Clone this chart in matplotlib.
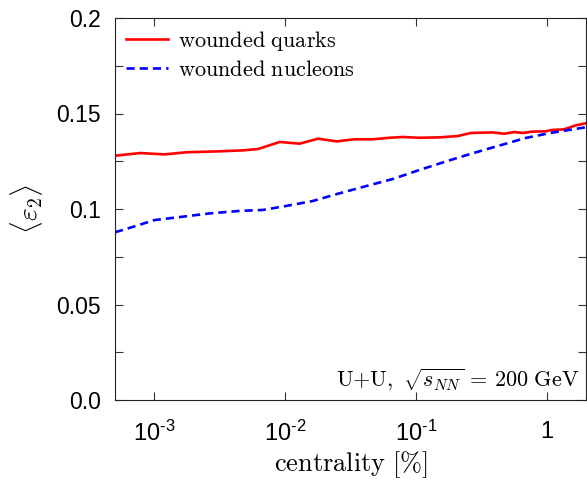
import numpy as np
import matplotlib
matplotlib.use("Agg")
import matplotlib.pyplot as plt
from matplotlib.font_manager import FontProperties
from matplotlib.ticker import FixedLocator, MultipleLocator, NullLocator

plt.rcParams['font.family'] = ['Liberation Sans', 'DejaVu Sans']
plt.rcParams['mathtext.fontset'] = 'custom'
plt.rcParams['mathtext.rm'] = 'Liberation Sans'
plt.rcParams['mathtext.it'] = 'Liberation Sans:italic'
plt.rcParams['mathtext.bf'] = 'Liberation Sans:bold'

# wounded quarks (solid red)
quark_x = [5e-4, 7.8e-4, 1.2e-3, 1.76e-3, 3.16e-3, 4.76e-3, 6.2e-3, 9.1e-3,
           0.0129, 0.0178, 0.0248, 0.034, 0.0468, 0.0628, 0.0794, 0.106,
           0.151, 0.209, 0.264, 0.386, 0.474, 0.565, 0.654, 0.78, 0.986,
           1.107, 1.36, 1.67, 2.0]
quark_e2 = [0.1279, 0.1293, 0.1286, 0.1297, 0.1302, 0.1307, 0.1314, 0.1351,
            0.1342, 0.1368, 0.1354, 0.1365, 0.1365, 0.1373, 0.1377, 0.1373,
            0.1375, 0.1382, 0.1398, 0.1401, 0.1394, 0.1403, 0.1398, 0.1405,
            0.1407, 0.1414, 0.1417, 0.1438, 0.1449]

# wounded nucleons (dashed blue)
nucl_x = [5e-4, 6.9e-4, 1.0e-3, 1.66e-3, 2.65e-3, 4.5e-3, 6.76e-3, 0.0102,
          0.0163, 0.026, 0.0417, 0.0665, 0.106, 0.17, 0.272, 0.434, 0.693,
          1.107, 2.0]
nucl_e2 = [0.0878, 0.0907, 0.0942, 0.096, 0.0977, 0.099, 0.0995, 0.1016,
           0.1042, 0.1082, 0.112, 0.1157, 0.1204, 0.1249, 0.1292, 0.1332,
           0.1372, 0.14, 0.1428]

xticks = [1e-3, 1e-2, 1e-1, 1]
xtick_labels = [r'$10^{\text{-}3}$', r'$10^{\text{-}2}$', r'$10^{\text{-}1}$', '1']
yticks = [0.0, 0.05, 0.1, 0.15, 0.2]
ytick_labels = ['0.0', '0.05', '0.1', '0.15', '0.2']

fig = plt.figure(figsize=(5.87, 4.84), dpi=100)
ax = fig.add_axes([115/587, 84/484, 471/587, 382/484])

ax.plot(quark_x, quark_e2, color='red', lw=1.9, label=r'$\mathrm{wounded\ quarks}$')
ln, = ax.plot(nucl_x, nucl_e2, color='blue', lw=1.9, ls='--',
              label=r'$\mathrm{wounded\ nucleons}$')
ln.set_dashes([3.1, 1.9])

ax.set_xscale('log')
ax.set_xlim(5e-4, 2.0)
ax.set_ylim(0, 0.2)

ax.xaxis.set_major_locator(FixedLocator(xticks))
ax.xaxis.set_minor_locator(NullLocator())
ax.set_xticklabels(xtick_labels)
ax.set_yticks(yticks)
ax.set_yticklabels(ytick_labels)
ax.yaxis.set_minor_locator(MultipleLocator(0.025))

ax.tick_params(which='both', direction='in', top=True, right=True,
               length=6, width=0.8, color='#333333')
ax.tick_params(axis='x', pad=15, labelsize=17)
ax.tick_params(axis='y', pad=10, labelsize=16.5)
for s in ax.spines.values():
    s.set_linewidth(0.8)
    s.set_color('#222222')

ax.set_xlabel(r'$\mathrm{centrality}\ [\%]$', math_fontfamily='cm',
              fontsize=19, labelpad=2)
ax.set_ylabel(r'$\langle\varepsilon_2\rangle$', math_fontfamily='cm',
              fontsize=20, labelpad=8)

ax.text(0.987, 0.034, r'$\mathrm{U{+}U},\ \sqrt{s_{NN}}\,=\,200\ \mathrm{GeV}$',
        transform=ax.transAxes, ha='right', va='baseline', fontsize=16,
        math_fontfamily='cm')

leg = ax.legend(loc='upper left', frameon=False,
                prop=FontProperties(size=16, math_fontfamily='cm'),
                handlelength=1.9, handletextpad=0.45, labelspacing=0.3,
                borderaxespad=0.15, borderpad=0.35)

fig.savefig('out.png', dpi=100)
